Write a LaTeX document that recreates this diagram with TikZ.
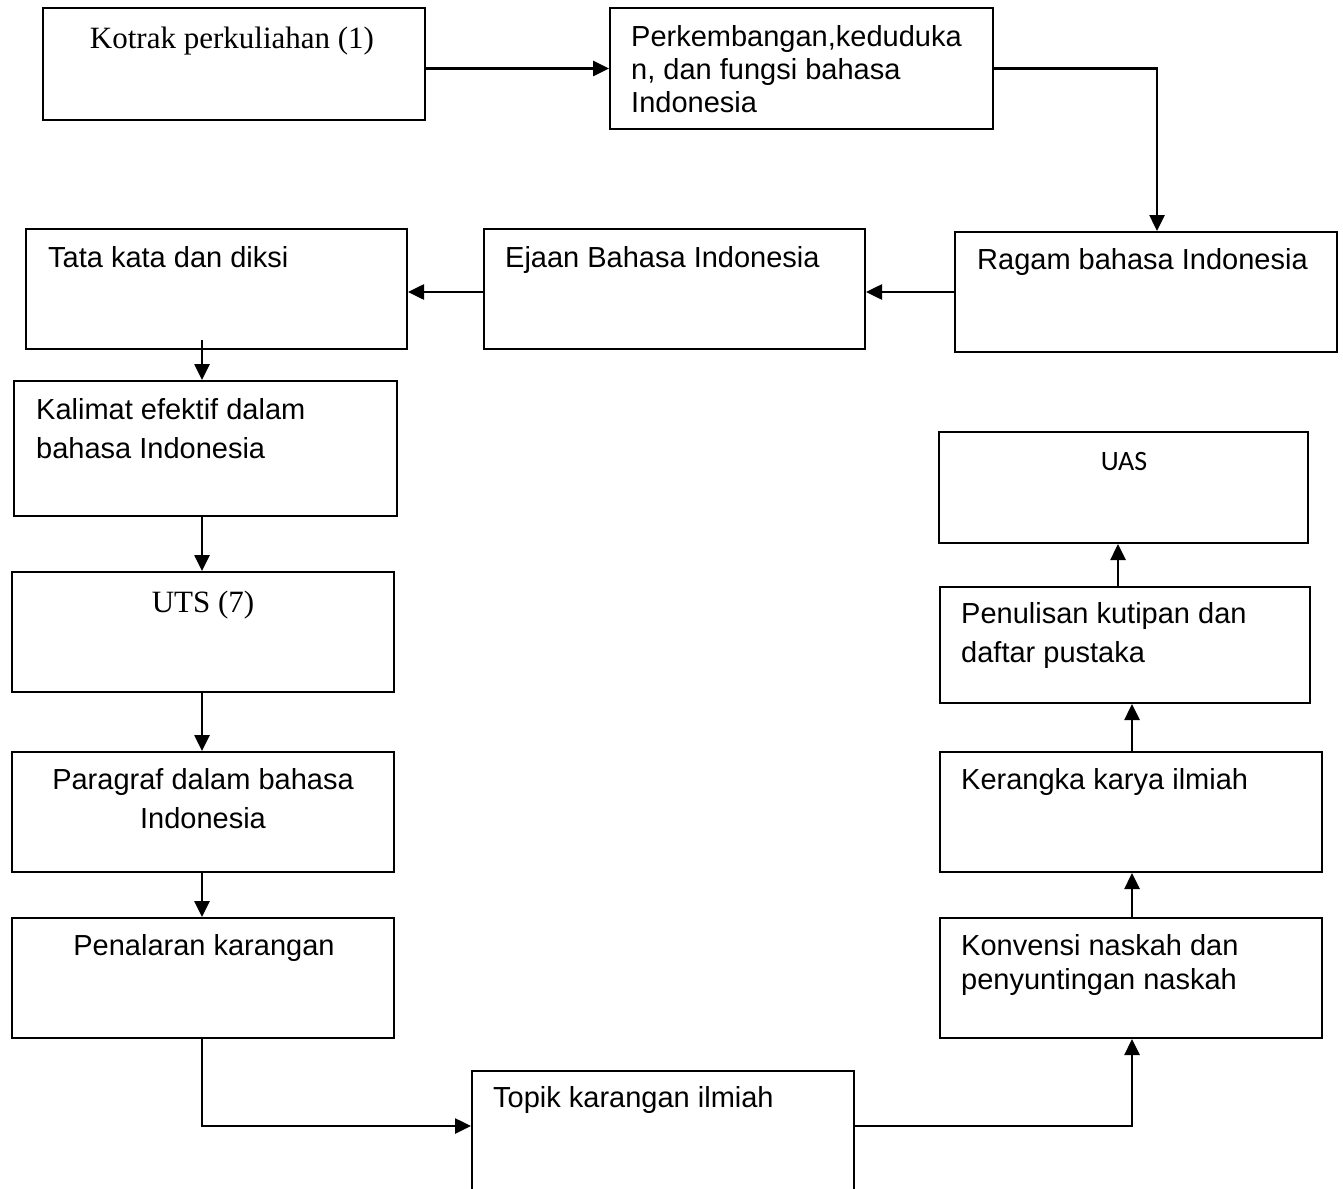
\documentclass[tikz,border=0pt]{standalone}
\usepackage{fontspec}
\newfontfamily\arialf{Liberation Sans}
\newfontfamily\tnrf{Liberation Serif}
\newfontfamily\calibf{Carlito}
\usetikzlibrary{arrows.meta}
\begin{document}
\begin{tikzpicture}[x=1pt,y=-1pt,
  box/.style={draw, line width=2pt, rectangle, inner sep=0pt},
  conn/.style={line width=2.6pt, -{Triangle[length=16pt,width=15pt]}},
  txt/.style={anchor=base west, inner sep=0pt, font=\arialf\fontsize{29}{33}\selectfont},
  ctxt/.style={anchor=base, inner sep=0pt, font=\arialf\fontsize{29}{33}\selectfont},
  serif/.style={anchor=base, inner sep=0pt, font=\tnrf\fontsize{31}{35}\selectfont},
  calib/.style={anchor=base, inner sep=0pt, font=\calibf\fontsize{28}{32}\selectfont}]
\useasboundingbox (0,0) rectangle (1343,1188);
\fill[white] (0,0) rectangle (1343,1188);
\clip (0,0) rectangle (1343,1188);

% boxes
\node[box, minimum width=382pt, minimum height=112pt] (b1) at (234,64) {};
\node[box, minimum width=383pt, minimum height=121pt] (b2) at (801.5,68.5) {};
\node[box, minimum width=382pt, minimum height=120pt] (b3) at (1146,292) {};
\node[box, minimum width=381pt, minimum height=120pt] (b4) at (674.5,289) {};
\node[box, minimum width=381pt, minimum height=120pt] (b5) at (216.5,289) {};
\node[box, minimum width=383pt, minimum height=135pt] (b6) at (205.5,448.5) {};
\node[box, minimum width=382pt, minimum height=120pt] (b7) at (203,632) {};
\node[box, minimum width=382pt, minimum height=120pt] (b8) at (203,812) {};
\node[box, minimum width=382pt, minimum height=120pt] (b9) at (203,978) {};
\node[box, minimum width=382pt, minimum height=159pt] (b10) at (663,1150.5) {};
\node[box, minimum width=382pt, minimum height=120pt] (b11) at (1131,978) {};
\node[box, minimum width=382pt, minimum height=120pt] (b12) at (1131,812) {};
\node[box, minimum width=370pt, minimum height=116pt] (b13) at (1125,645) {};
\node[box, minimum width=369pt, minimum height=111pt] (b14) at (1123.5,487.5) {};

% texts
\node[serif] (t1) at (232,49) {Kotrak perkuliahan (1)};
\node[txt] (t2a) at (631,47) {Perkembangan,keduduka};
\node[txt] (t2b) at (631,80) {n, dan fungsi bahasa};
\node[txt] (t2c) at (631,113) {Indonesia};
\node[txt] (t3) at (977,269) {Ragam bahasa Indonesia};
\node[txt] (t4) at (505,267) {Ejaan Bahasa Indonesia};
\node[txt] (t5) at (48,267) {Tata kata dan diksi};
\node[txt] (t6a) at (36,419) {Kalimat efektif dalam};
\node[txt] (t6b) at (36,458) {bahasa Indonesia};
\node[serif] (t7) at (203,612) {UTS (7)};
\node[ctxt] (t8a) at (203,789) {Paragraf dalam bahasa};
\node[ctxt] (t8b) at (203,828) {Indonesia};
\node[ctxt] (t9) at (204,955) {Penalaran karangan};
\node[txt] (t10) at (493,1107) {Topik karangan ilmiah};
\node[txt] (t11a) at (961,955) {Konvensi naskah dan};
\node[txt] (t11b) at (961,989) {penyuntingan naskah};
\node[txt] (t12) at (961,789) {Kerangka karya ilmiah};
\node[txt] (t13a) at (961,623) {Penulisan kutipan dan};
\node[txt] (t13b) at (961,662) {daftar pustaka};
\node[calib] (t14) at (1124,470) {UAS};

% helper coordinates
\coordinate (c2) at (1157,68.5);
\coordinate (c5) at (202,340);
\coordinate (lx) at (202,0);
\coordinate (c9) at (202,1126);
\coordinate (rx) at (1132,1126);
\coordinate (ux) at (1118,0);

% connectors
\draw[conn] (b1.east |- b2.west) -- (b2.west);
\draw[conn] (b2.east) -- (c2) -- (c2 |- b3.north);
\draw[conn] (b3.west) -- (b4.east |- b3.west);
\draw[conn] (b4.west |- b3.west) -- (b5.east |- b3.west);
\draw[conn] (c5) -- (c5 |- b6.north);
\draw[conn] (lx |- b6.south) -- (lx |- b7.north);
\draw[conn] (lx |- b7.south) -- (lx |- b8.north);
\draw[conn] (lx |- b8.south) -- (lx |- b9.north);
\draw[conn] (lx |- b9.south) -- (c9) -- (c9 -| b10.west);
\draw[conn] (b10.east |- rx) -- (rx) -- (rx |- b11.south);
\draw[conn] (rx |- b11.north) -- (rx |- b12.south);
\draw[conn] (rx |- b12.north) -- (rx |- b13.south);
\draw[conn] (ux |- b13.north) -- (ux |- b14.south);
\end{tikzpicture}
\end{document}
